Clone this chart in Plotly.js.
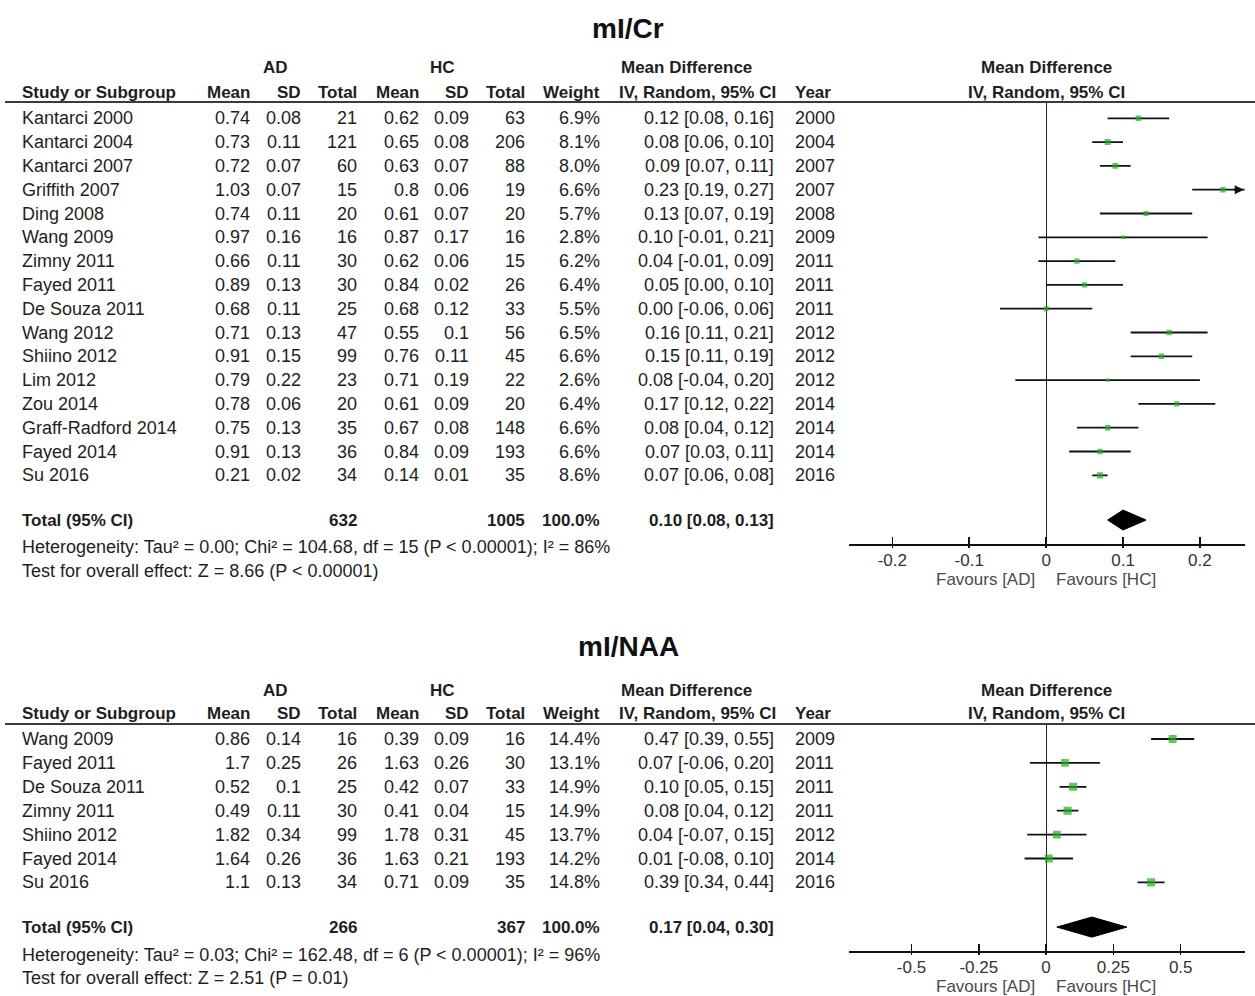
<!DOCTYPE html>
<html><head><meta charset="utf-8">
<script src="https://cdn.plot.ly/plotly-3.0.1.min.js"></script>
<style>body{margin:0;background:#fff}</style>
</head><body><div id="chart" style="width:1255px;height:996px"></div>
<script>
// ================= DATA: mI/Cr =================
const crStudies = ['Kantarci 2000','Kantarci 2004','Kantarci 2007','Griffith 2007','Ding 2008','Wang 2009','Zimny 2011','Fayed 2011','De Souza 2011','Wang 2012','Shiino 2012','Lim 2012','Zou 2014','Graff-Radford 2014','Fayed 2014','Su 2016'];
const crAdMean = [0.74,0.73,0.72,1.03,0.74,0.97,0.66,0.89,0.68,0.71,0.91,0.79,0.78,0.75,0.91,0.21];
const crAdSd   = [0.08,0.11,0.07,0.07,0.11,0.16,0.11,0.13,0.11,0.13,0.15,0.22,0.06,0.13,0.13,0.02];
const crAdN    = [21,121,60,15,20,16,30,30,25,47,99,23,20,35,36,34];
const crHcMean = [0.62,0.65,0.63,0.8,0.61,0.87,0.62,0.84,0.68,0.55,0.76,0.71,0.61,0.67,0.84,0.14];
const crHcSd   = [0.09,0.08,0.07,0.06,0.07,0.17,0.06,0.02,0.12,0.1,0.11,0.19,0.09,0.08,0.09,0.01];
const crHcN    = [63,206,88,19,20,16,15,26,33,56,45,22,20,148,193,35];
const crWeight = [6.9,8.1,8.0,6.6,5.7,2.8,6.2,6.4,5.5,6.5,6.6,2.6,6.4,6.6,6.6,8.6];
const crMD     = [0.12,0.08,0.09,0.23,0.13,0.10,0.04,0.05,0.00,0.16,0.15,0.08,0.17,0.08,0.07,0.07];
const crLo     = [0.08,0.06,0.07,0.19,0.07,-0.01,-0.01,0.00,-0.06,0.11,0.11,-0.04,0.12,0.04,0.03,0.06];
const crHi     = [0.16,0.10,0.11,0.27,0.19,0.21,0.09,0.10,0.06,0.21,0.19,0.20,0.22,0.12,0.11,0.08];
const crYear   = [2000,2004,2007,2007,2008,2009,2011,2011,2011,2012,2012,2012,2014,2014,2014,2016];
const crTotal  = {adN:632, hcN:1005, md:0.10, lo:0.08, hi:0.13};
const crHet    = {tau2:'0.00', chi2:'104.68', df:15, p:'< 0.00001', i2:86};
const crOverall= {z:'8.66', p:'< 0.00001'};
const crTicks  = [-0.2,-0.1,0,0.1,0.2];
const crTickLabels = ['-0.2','-0.1','0','0.1','0.2'];

// ================= DATA: mI/NAA =================
const naaStudies = ['Wang 2009','Fayed 2011','De Souza 2011','Zimny 2011','Shiino 2012','Fayed 2014','Su 2016'];
const naaAdMean = [0.86,1.7,0.52,0.49,1.82,1.64,1.1];
const naaAdSd   = [0.14,0.25,0.1,0.11,0.34,0.26,0.13];
const naaAdN    = [16,26,25,30,99,36,34];
const naaHcMean = [0.39,1.63,0.42,0.41,1.78,1.63,0.71];
const naaHcSd   = [0.09,0.26,0.07,0.04,0.31,0.21,0.09];
const naaHcN    = [16,30,33,15,45,193,35];
const naaWeight = [14.4,13.1,14.9,14.9,13.7,14.2,14.8];
const naaMD     = [0.47,0.07,0.10,0.08,0.04,0.01,0.39];
const naaLo     = [0.39,-0.06,0.05,0.04,-0.07,-0.08,0.34];
const naaHi     = [0.55,0.20,0.15,0.12,0.15,0.10,0.44];
const naaYear   = [2009,2011,2011,2011,2012,2014,2016];
const naaTotal  = {adN:266, hcN:367, md:0.17, lo:0.04, hi:0.30};
const naaHet    = {tau2:'0.03', chi2:'162.48', df:6, p:'< 0.00001', i2:96};
const naaOverall= {z:'2.51', p:'= 0.01'};
const naaTicks  = [-0.5,-0.25,0,0.25,0.5];
const naaTickLabels = ['-0.5','-0.25','0','0.25','0.5'];

// ================= LAYOUT HELPERS =================
const W = 1255, H = 996;
const FONT = 'Liberation Sans, Arial, sans-serif';
const TXT = '#1e1e1e';
const ROWSIZE = 18;
const px = v => v / W;
const py = v => 1 - v / H;
const f2 = v => v.toFixed(2);
const ciText = (m, l, h) => f2(m) + ' [' + f2(l) + ', ' + f2(h) + ']';

const COLS = [
  {x:20, anchor:'left'},   // study
  {x:252, anchor:'right'}, // AD mean
  {x:303, anchor:'right'}, // AD sd
  {x:359, anchor:'right'}, // AD total
  {x:421, anchor:'right'}, // HC mean
  {x:471, anchor:'right'}, // HC sd
  {x:527, anchor:'right'}, // HC total
  {x:602, anchor:'right'}, // weight
  {x:776, anchor:'right'}, // MD CI
  {x:793, anchor:'left'}   // year
];

const traces = [], annotations = [], shapes = [];

function txt(text, x, y, anchor, opts) {
  opts = opts || {};
  annotations.push({
    text: text, x: x, y: y, xref: opts.xref || 'paper', yref: opts.yref || 'paper',
    xanchor: anchor, yanchor: 'middle', showarrow: false,
    font: {family: FONT, size: opts.size || ROWSIZE, color: opts.color || TXT, weight: opts.bold ? 'bold' : 'normal'}
  });
}

function panel(d, g) {
  const n = d.studies.length;
  const yr = g.yaxis;
  // title
  txt(g.title, px(628), py(g.titleY), 'center', {size: 28, bold: true, color: '#111'});
  // headers
  txt('AD', px(275), py(g.h1), 'center', {bold: true, size: 17});
  txt('HC', px(442), py(g.h1), 'center', {bold: true, size: 17});
  txt('Mean Difference', px(619), py(g.h1), 'left', {bold: true, size: 17});
  txt('Mean Difference', px(1046), py(g.h1), 'center', {bold: true, size: 17});
  const heads = ['Study or Subgroup','Mean','SD','Total','Mean','SD','Total','Weight','IV, Random, 95% CI','Year'];
  heads.forEach((h, k) => {
    if (k === 8) txt(h, px(617), py(g.h2), 'left', {bold: true, size: 17});
    else txt(h, px(COLS[k].x), py(g.h2), COLS[k].anchor, {bold: true, size: 17});
  });
  txt('IV, Random, 95% CI', px(1046), py(g.h2), 'center', {bold: true, size: 17});
  shapes.push({type:'line', xref:'paper', yref:'paper', x0:px(5), x1:1, y0:py(g.line), y1:py(g.line), line:{color:'#3a3a3a', width:2}});

  // study rows
  for (let i = 0; i < n; i++) {
    const vals = [d.studies[i], String(d.adMean[i]), String(d.adSd[i]), String(d.adN[i]),
      String(d.hcMean[i]), String(d.hcSd[i]), String(d.hcN[i]),
      d.weight[i].toFixed(1) + '%', ciText(d.md[i], d.lo[i], d.hi[i]), String(d.year[i])];
    vals.forEach((v, k) => txt(v, px(COLS[k].x), i, COLS[k].anchor, {yref: yr}));
  }
  // total row
  const tr = n + g.totalGap;
  txt('Total (95% CI)', px(COLS[0].x), tr, 'left', {yref: yr, bold: true, size: 17});
  txt(String(d.total.adN), px(COLS[3].x), tr, 'right', {yref: yr, bold: true, size: 17});
  txt(String(d.total.hcN), px(COLS[6].x), tr, 'right', {yref: yr, bold: true, size: 17});
  txt('100.0%', px(COLS[7].x), tr, 'right', {yref: yr, bold: true, size: 17});
  txt(ciText(d.total.md, d.total.lo, d.total.hi), px(COLS[8].x), tr, 'right', {yref: yr, bold: true, size: 17});
  // footers
  txt('Heterogeneity: Tau\u00b2 = ' + d.het.tau2 + '; Chi\u00b2 = ' + d.het.chi2 + ', df = ' + d.het.df +
      ' (P ' + d.het.p + '); I\u00b2 = ' + d.het.i2 + '%', px(20), py(g.het), 'left');
  txt('Test for overall effect: Z = ' + d.overall.z + ' (P ' + d.overall.p + ')', px(20), py(g.test), 'left');
  txt('Favours [AD]', px(1037), py(g.fav), 'right', {size: 17, color: '#4a4a4a'});
  txt('Favours [HC]', px(1054), py(g.fav), 'left', {size: 17, color: '#4a4a4a'});

  // forest points + CI
  const idx = d.studies.map((_, i) => i);
  traces.push({
    type: 'scatter', mode: 'markers', x: d.md, y: idx, xaxis: g.xaxis, yaxis: yr,
    marker: {symbol: 'square', size: d.weight.map(w => 2.1 * Math.sqrt(w)), color: '#1fae1f', line: {width: 0}},
    error_x: {type: 'data', symmetric: false, array: d.hi.map((h, i) => h - d.md[i]),
              arrayminus: d.lo.map((l, i) => d.md[i] - l), color: '#111', thickness: 1.8, width: 0},
    hoverinfo: 'skip', showlegend: false, cliponaxis: true
  });
  // arrows for CIs beyond axis
  for (let i = 0; i < n; i++) {
    if (d.hi[i] > g.range[1]) {
      const xe = g.range[1] - 0.001;
      annotations.push({x: xe, y: i, xref: g.xaxis, yref: yr, ax: xe - 0.015, ay: i, axref: g.xaxis, ayref: yr,
        text: '', showarrow: true, arrowhead: 2, arrowsize: 1, arrowwidth: 1.8, arrowcolor: '#111', standoff: 0});
    }
  }
  // diamond
  const h = 0.42;
  traces.push({
    type: 'scatter', mode: 'lines', xaxis: g.xaxis, yaxis: yr,
    x: [d.total.lo, d.total.md, d.total.hi, d.total.md, d.total.lo],
    y: [tr, tr - h, tr, tr + h, tr], fill: 'toself', fillcolor: '#000',
    line: {color: '#000', width: 1}, hoverinfo: 'skip', showlegend: false
  });
}

const topG = {title:'mI/Cr', titleY:28, h1:68, h2:92, line:102, het:547, test:571, fav:579,
  xaxis:'x', yaxis:'y', range:[-0.257, 0.258], totalGap:0.88};
const botG = {title:'mI/NAA', titleY:646, h1:690, h2:713, line:724, het:955, test:978, fav:986,
  xaxis:'x2', yaxis:'y2', range:[-0.734, 0.737], totalGap:0.87};

panel({studies:crStudies, adMean:crAdMean, adSd:crAdSd, adN:crAdN, hcMean:crHcMean, hcSd:crHcSd, hcN:crHcN,
  weight:crWeight, md:crMD, lo:crLo, hi:crHi, year:crYear, total:crTotal, het:crHet, overall:crOverall}, topG);
panel({studies:naaStudies, adMean:naaAdMean, adSd:naaAdSd, adN:naaAdN, hcMean:naaHcMean, hcSd:naaHcSd, hcN:naaHcN,
  weight:naaWeight, md:naaMD, lo:naaLo, hi:naaHi, year:naaYear, total:naaTotal, het:naaHet, overall:naaOverall}, botG);

function xax(range, tv, tt, anchor) {
  return {domain:[px(848.5), px(1244.5)], range: range, anchor: anchor, fixedrange: true,
    showline: true, linecolor: '#111', linewidth: 1.5, mirror: false,
    ticks: 'inside', ticklen: 7, tickwidth: 1.5, tickcolor: '#111',
    tickmode: 'array', tickvals: tv, ticktext: tt, tickfont: {family: FONT, size: 17, color: '#333'},
    showgrid: false, zeroline: true, zerolinecolor: '#222', zerolinewidth: 1};
}
// overlay axis that draws the short downward part of each tick
function xaxDown(range, tv, anchor, over) {
  return {domain:[px(848.5), px(1244.5)], range: range, anchor: anchor, overlaying: over, fixedrange: true,
    showline: false, ticks: 'outside', ticklen: 3, tickwidth: 1.5, tickcolor: '#111',
    tickmode: 'array', tickvals: tv, showticklabels: false, showgrid: false, zeroline: false};
}
function yax(domainPx, range) {
  return {domain:[py(domainPx[0]), py(domainPx[1])], range: range, visible: false, fixedrange: true,
    showgrid: false, zeroline: false};
}

// invisible traces to activate the overlay tick axes
traces.push({type:'scatter', x:[0], y:[0], xaxis:'x3', yaxis:'y', mode:'markers', marker:{opacity:0}, hoverinfo:'skip', showlegend:false});
traces.push({type:'scatter', x:[0], y:[0], xaxis:'x4', yaxis:'y2', mode:'markers', marker:{opacity:0}, hoverinfo:'skip', showlegend:false});

const layout = {
  width: W, height: H, margin: {l:0, r:0, t:0, b:0},
  paper_bgcolor: '#fff', plot_bgcolor: 'rgba(0,0,0,0)', showlegend: false,
  font: {family: FONT, color: TXT},
  xaxis: xax(topG.range, crTicks, crTickLabels, 'y'),
  yaxis: yax([544, 102], [17.886, -0.685]),
  xaxis2: xax(botG.range, naaTicks, naaTickLabels, 'y2'),
  yaxis2: yax([951, 724], [8.870, -0.628]),
  xaxis3: xaxDown(topG.range, crTicks, 'y', 'x'),
  xaxis4: xaxDown(botG.range, naaTicks, 'y2', 'x2'),
  annotations: annotations, shapes: shapes
};

Plotly.newPlot('chart', traces, layout, {displayModeBar: false, staticPlot: true});
</script></body></html>
